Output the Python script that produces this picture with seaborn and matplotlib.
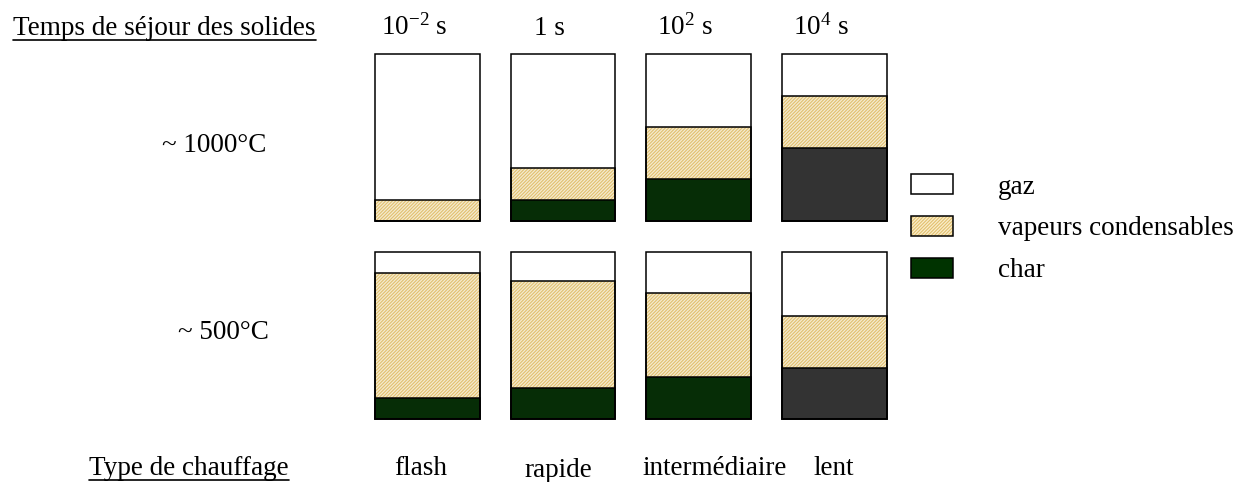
import matplotlib
matplotlib.use("Agg")
import matplotlib.pyplot as plt
from matplotlib.patches import Patch
from matplotlib.lines import Line2D
from matplotlib.legend_handler import HandlerTuple
from matplotlib.transforms import blended_transform_factory
import seaborn as sns
import pandas as pd

# data (percent of products)
types = ["flash", "rapide", "intermédiaire", "lent"]
temps = [r"10$^{\mathrm{-2}}$ s", "1 s", r"10$^{\mathrm{2}}$ s", r"10$^{\mathrm{4}}$ s"]
temperatures = ["~ 1000°C", "~ 500°C"]
char_1000 = [0, 12.5, 25, 44]
vap_1000 = [12.5, 19, 31, 31]
char_500 = [12.5, 19, 25.5, 31]
vap_500 = [75, 64, 50, 31]
products = ["gaz", "vapeurs condensables", "char"]

# colours
beige = "#faeecb"
hatch_col = "#e2c06e"
green = "#003300"
grey = "#333333"
char_colors = [green, green, green, grey]
HATCH = "/" * 10

sns.set_style("white")
plt.rcParams["font.family"] = ["Liberation Serif", "DejaVu Serif"]
plt.rcParams["text.color"] = "black"
plt.rcParams["mathtext.fontset"] = "custom"
plt.rcParams["mathtext.rm"] = "Liberation Serif"
plt.rcParams["mathtext.it"] = "Liberation Serif:italic"
plt.rcParams["hatch.linewidth"] = 0.8
FS = 19.5
W = 0.771

fig = plt.figure(figsize=(12.5, 4.82), dpi=100)
FW, FH = 1250, 482


def px(x, y):
    return x / FW, 1 - y / FH


def draw_row(ax, char, vap):
    df = pd.DataFrame({"type": types, "char": char, "vap": vap})
    df["mid"] = df["char"] + df["vap"]
    df["top"] = 100
    sns.barplot(data=df, x="type", y="top", color="white", width=W,
                linewidth=0, ax=ax)
    sns.barplot(data=df, x="type", y="mid", color=beige, width=W, hatch=HATCH,
                edgecolor=hatch_col, linewidth=0, ax=ax)
    sns.barplot(data=df, x="type", y="char", hue="type", palette=char_colors,
                legend=False, width=W, linewidth=0, ax=ax)
    # outlines of every layer
    for col in ["top", "mid", "char"]:
        sns.barplot(data=df, x="type", y=col, fill=False, color="black",
                    edgecolor="black", width=W, linewidth=1.1, ax=ax)
    ax.set_ylim(0, 100)
    ax.set_xlim(-0.5, 3.5)
    ax.axis("off")
    for p in ax.patches:
        p.set_clip_on(False)


ax_top = fig.add_axes([359.8 / FW, (FH - 221) / FH, 542.3 / FW, 167 / FH])
ax_bot = fig.add_axes([359.8 / FW, (FH - 419.3) / FH, 542.3 / FW, 167 / FH])
draw_row(ax_top, char_1000, vap_1000)
draw_row(ax_bot, char_500, vap_500)

# column headers (residence time)
tr = blended_transform_factory(ax_top.transData, fig.transFigure)
for i, t in enumerate(temps):
    fig.text(i - 0.1, 1 - 35 / FH, t, transform=tr, ha="center",
             va="baseline", fontsize=FS)

t1 = fig.text(*px(13, 35), "Temps de séjour des solides", fontsize=FS,
              va="baseline", ha="left")
fig.text(*px(162, 152), temperatures[0], fontsize=FS, va="baseline", ha="left")
fig.text(*px(178, 339), temperatures[1], fontsize=FS, va="baseline", ha="left")
t2 = fig.text(*px(89, 475), "Type de chauffage", fontsize=FS,
              va="baseline", ha="left")

bottom_x = [421, 558, 715, 834]
bottom_y = [475, 477, 475, 475]
for x, y, t in zip(bottom_x, bottom_y, types):
    fig.text(*px(x, y), t, fontsize=FS, va="baseline", ha="center")

# legend
handles = [
    (Patch(facecolor="white", edgecolor="black", linewidth=1.1),),
    (Patch(facecolor=beige, edgecolor=hatch_col, hatch=HATCH, linewidth=0),
     Patch(fill=False, edgecolor="black", linewidth=1.1)),
    (Patch(facecolor=green, edgecolor="black", linewidth=1.1),),
]
fig.legend(handles, products, loc="upper left", bbox_to_anchor=px(911, 174),
           frameon=False, fontsize=FS, borderpad=0, borderaxespad=0,
           handlelength=1.55, handleheight=0.775, handletextpad=1.66,
           labelspacing=0.6, handler_map={tuple: HandlerTuple(ndivide=1)})

# underline the two row titles
fig.canvas.draw()
for t, uy in [(t1, 39.5), (t2, 479.5)]:
    bb = t.get_window_extent()
    fig.add_artist(Line2D([bb.x0 / FW, bb.x1 / FW], [1 - uy / FH, 1 - uy / FH],
                          transform=fig.transFigure, color="black", lw=1.2))

fig.savefig("out.png", dpi=100)
